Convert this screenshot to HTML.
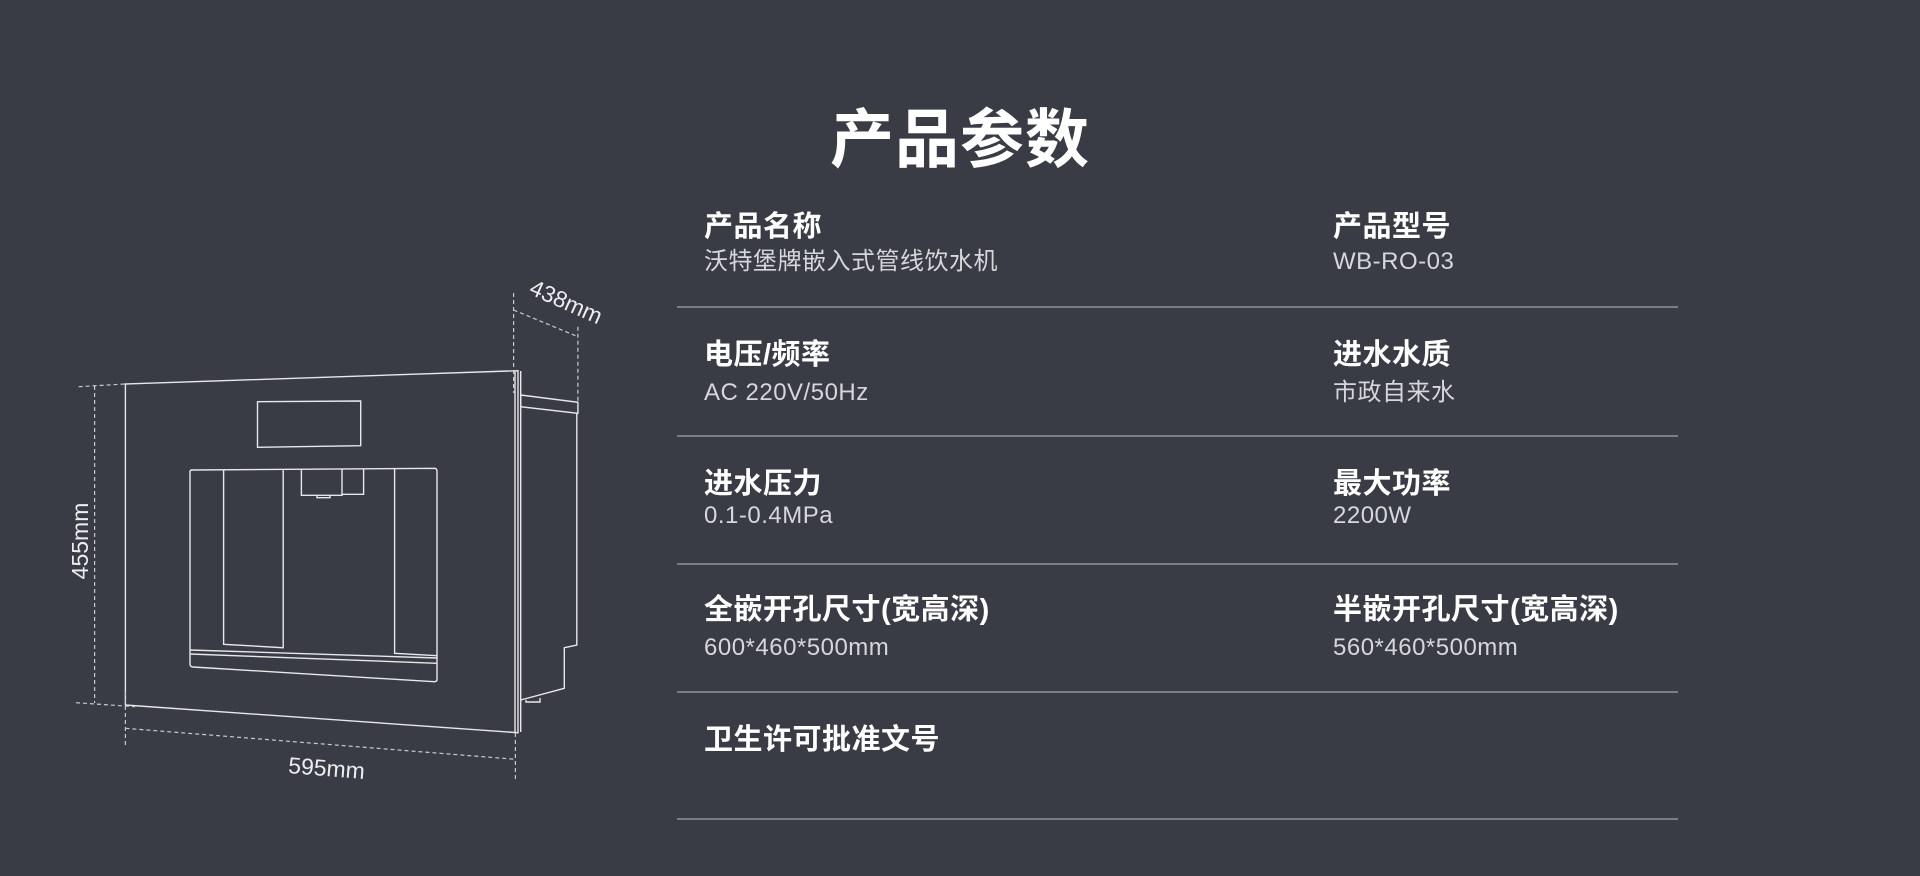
<!DOCTYPE html>
<html><head><meta charset="utf-8"><style>
html,body{margin:0;padding:0;background:#393c45;}
body{width:1920px;height:876px;position:relative;overflow:hidden;font-family:"Liberation Sans","Noto Sans CJK SC",sans-serif;}
.t{position:absolute;left:830px;top:100px;font-size:64px;font-weight:bold;color:#fff;letter-spacing:1px;line-height:80px;}
.l{position:absolute;font-size:29px;font-weight:bold;color:#fff;line-height:36px;letter-spacing:0.5px;}
.v{position:absolute;font-size:24px;color:#d6d7da;line-height:30px;letter-spacing:0.5px;}
.hr{position:absolute;left:677px;width:1001px;height:1.5px;background:#7b7e86;}
</style></head><body>
<div class="t">产品参数</div>

<div class="l" style="left:704px;top:209px">产品名称</div>
<div class="v" style="left:704px;top:247px">沃特堡牌嵌入式管线饮水机</div>
<div class="l" style="left:1333px;top:209px">产品型号</div>
<div class="v" style="left:1333px;top:247px">WB-RO-03</div>
<div class="hr" style="top:306px"></div>

<div class="l" style="left:704px;top:337px">电压/频率</div>
<div class="v" style="left:704px;top:378px">AC 220V/50Hz</div>
<div class="l" style="left:1333px;top:337px">进水水质</div>
<div class="v" style="left:1333px;top:378px">市政自来水</div>
<div class="hr" style="top:435px"></div>

<div class="l" style="left:704px;top:466px">进水压力</div>
<div class="v" style="left:704px;top:501px">0.1-0.4MPa</div>
<div class="l" style="left:1333px;top:466px">最大功率</div>
<div class="v" style="left:1333px;top:501px">2200W</div>
<div class="hr" style="top:563px"></div>

<div class="l" style="left:704px;top:592px">全嵌开孔尺寸(宽高深)</div>
<div class="v" style="left:704px;top:633px">600*460*500mm</div>
<div class="l" style="left:1333px;top:592px">半嵌开孔尺寸(宽高深)</div>
<div class="v" style="left:1333px;top:633px">560*460*500mm</div>
<div class="hr" style="top:691px"></div>

<div class="l" style="left:704px;top:722px">卫生许可批准文号</div>
<div class="hr" style="top:818px"></div>

<svg width="1920" height="876" style="position:absolute;left:0;top:0" fill="none" stroke="#e8e8ea" stroke-width="1.4">
<polygon points="125.4,384 518,370.7 518,732.7 125.4,705"/>
<line x1="515" y1="371" x2="515" y2="732"/>
<polygon points="257.5,401.7 360.7,401 360.7,445.7 257.5,447.3"/>
<path d="M190,472 Q190,470 192,470 L435,468.3 Q437,469 437,471 L437,679.5 Q437,681.7 434,681.7 L193,667 Q190,666.7 190,664 Z"/>
<line x1="190" y1="650" x2="437" y2="658"/>
<line x1="190" y1="654" x2="437" y2="663.3"/>
<polyline points="223.6,470 223.6,644.3 283.2,647.7 283.2,469.5"/>
<polyline points="394.6,468.7 394.6,653.3 437,655.7"/>
<polyline points="301.4,469.3 301.4,495.3 342,495.3 342,469"/>
<polyline points="342,494.3 363.6,494.3 363.6,468.6"/>
<polyline points="317,495.3 317,497.7 330,497.7 330,495.3"/>
<polygon points="520.7,395 577.9,402.3 577.9,413.3 520.7,406.7"/>
<line x1="520.7" y1="371" x2="520.7" y2="732"/>
<polyline points="576.8,413.3 576.8,645 564.3,647.7 564.3,688.3 520.7,700"/>
<polyline points="526,700 526,702 540,702 540,698"/>
<g stroke="#c9cacd" stroke-width="1.2" stroke-dasharray="4,3">
<line x1="94.6" y1="386" x2="94.6" y2="703"/>
<line x1="78.6" y1="386.7" x2="125" y2="384"/>
<line x1="76" y1="702.7" x2="135" y2="706.7"/>
<line x1="125.4" y1="692" x2="125.4" y2="745"/>
<line x1="515.4" y1="733" x2="515.4" y2="780"/>
<line x1="125.4" y1="728.3" x2="515.4" y2="759.3"/>
<line x1="513.6" y1="293" x2="513.6" y2="393"/>
<line x1="577.9" y1="326.7" x2="577.9" y2="403"/>
<line x1="513.6" y1="310" x2="577.9" y2="336.7"/>
</g>
<g fill="#ecedef" stroke="none" font-family="Liberation Sans, sans-serif" font-size="23">
<text x="0" y="0" text-anchor="middle" transform="translate(88,541) rotate(-90)">455mm</text>
<text x="0" y="0" text-anchor="middle" transform="translate(326,776) rotate(4.5)">595mm</text>
<text x="0" y="0" text-anchor="middle" transform="translate(563,309) rotate(24)">438mm</text>
</g>
</svg>
</body></html>
